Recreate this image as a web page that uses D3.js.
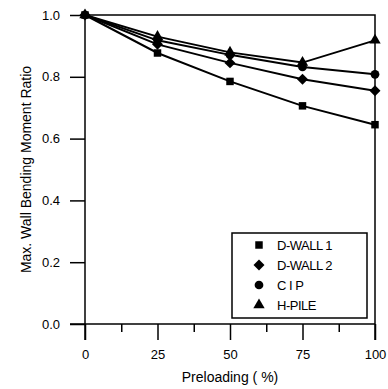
<!DOCTYPE html>
<html>
<head>
<meta charset="utf-8">
<script src="https://cdn.jsdelivr.net/npm/d3@7"></script>
<style>
  body { margin: 0; background: #fff; }
  text { font-family: "Liberation Sans", Arial, sans-serif; fill: #000; }
</style>
</head>
<body>
<svg width="388" height="389"></svg>
<script>
const preload = [0, 25, 50, 75, 100];
const dwall1 = [1.0, 0.877, 0.785, 0.706, 0.645];
const dwall2 = [1.0, 0.905, 0.845, 0.792, 0.755];
const cip = [1.0, 0.918, 0.871, 0.832, 0.808];
const hpile = [1.0, 0.930, 0.879, 0.846, 0.918];
const seriesNames = ["D-WALL 1", "D-WALL 2", "C I P", "H-PILE"];

// square rotated 45 degrees, wider than d3's own diamond
const squareDiamond = {
  draw(context, size) {
    const r = Math.sqrt(size / 2);
    context.moveTo(0, -r);
    context.lineTo(r, 0);
    context.lineTo(0, r);
    context.lineTo(-r, 0);
    context.closePath();
  }
};
const seriesSymbols = [d3.symbolSquare, squareDiamond, d3.symbolCircle, d3.symbolTriangle];
const symbolSizes = [56, 60, 60, 56];
const xTicks = [0, 25, 50, 75, 100];
const xMinor = [12.5, 37.5, 62.5, 87.5];
const yTicks = [0, 0.2, 0.4, 0.6, 0.8, 1.0];

const svg = d3.select("svg");
const x = d3.scaleLinear().domain([0, 100]).range([85, 375]);
const y = d3.scaleLinear().domain([0, 1]).range([324, 15]);

// frame: top and right
svg.append("path")
    .attr("d", `M${x(0)},${y(1)}H${x(100)}V${y(0) + 16}`)
    .attr("fill", "none").attr("stroke", "#000").attr("stroke-width", 1.5);

// x axis
const xAxis = svg.append("g").attr("transform", `translate(0,${y(0)})`)
    .call(d3.axisBottom(x).tickValues(xTicks).tickSize(16).tickPadding(10).tickFormat(d3.format("d")));
svg.append("g").attr("transform", `translate(0,${y(0)})`)
    .call(d3.axisBottom(x).tickValues(xMinor).tickSize(8).tickFormat(""))
    .select(".domain").remove();
xAxis.select(".domain").attr("d", `M${x(0) - 15},0H${x(100)}`);

// y axis
const yAxis = svg.append("g").attr("transform", `translate(${x(0)},0)`)
    .call(d3.axisLeft(y).tickValues(yTicks).tickSize(15).tickPadding(10).tickFormat(d3.format(".1f")));
yAxis.select(".domain").attr("d", `M0,${y(1)}V${y(0) + 16}`);

svg.selectAll(".domain, .tick line").attr("stroke", "#000").attr("stroke-width", 1.5);
svg.selectAll(".tick text").attr("font-size", 13).attr("fill", "#000")
    .attr("font-family", "Liberation Sans, Arial, sans-serif");

// titles
svg.append("text").attr("x", 230).attr("y", 382).attr("text-anchor", "middle")
    .attr("font-size", 14).text("Preloading ( %)");
svg.append("text").attr("transform", `translate(31,${(y(0) + y(1)) / 2}) rotate(-90)`)
    .attr("text-anchor", "middle").attr("font-size", 14).text("Max. Wall Bending Moment Ratio");

// series
const allSeries = [dwall1, dwall2, cip, hpile];
const line = d3.line().x((d, i) => x(preload[i])).y(d => y(d));
allSeries.forEach((vals, k) => {
  svg.append("path").datum(vals).attr("d", line)
      .attr("fill", "none").attr("stroke", "#000").attr("stroke-width", 2);
});
allSeries.forEach((vals, k) => {
  const sym = d3.symbol().type(seriesSymbols[k]).size(symbolSizes[k]);
  svg.selectAll(null).data(vals).enter().append("path")
      .attr("d", sym)
      .attr("transform", (d, i) => `translate(${x(preload[i])},${y(d)})`)
      .attr("fill", "#000");
});

// legend
const lg = svg.append("g");
lg.append("rect").attr("x", 232).attr("y", 233).attr("width", 135).attr("height", 85)
    .attr("fill", "#fff").attr("stroke", "#000").attr("stroke-width", 1.5);
seriesNames.forEach((name, k) => {
  const ly = 245 + k * 20;
  lg.append("path").attr("d", d3.symbol().type(seriesSymbols[k]).size(symbolSizes[k])())
      .attr("transform", `translate(259,${ly})`).attr("fill", "#000");
  lg.append("text").attr("x", 277).attr("y", ly + 5).attr("font-size", 13)
      .attr("letter-spacing", -0.5).text(name);
});
</script>
</body>
</html>
